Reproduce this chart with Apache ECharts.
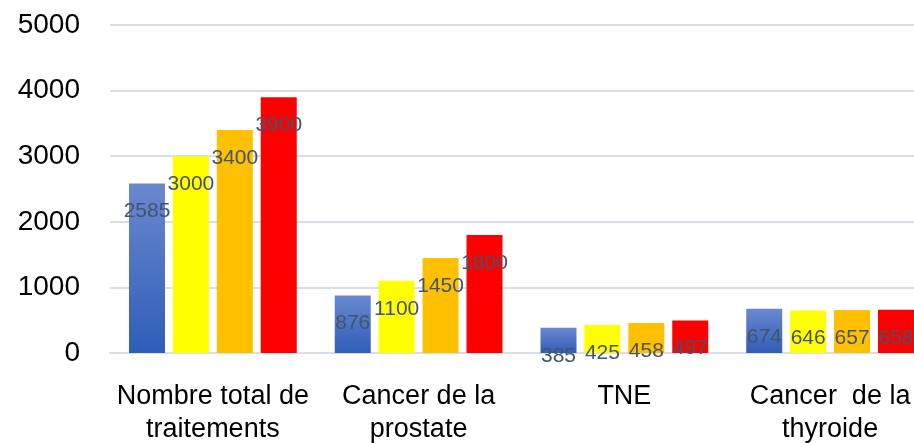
<!DOCTYPE html>
<html><head><meta charset="utf-8">
<script src="https://cdn.jsdelivr.net/npm/echarts@6/dist/echarts.min.js"></script>
<style>html,body{margin:0;padding:0;background:#fff}#c{width:914px;height:443px}</style>
</head><body><div id="c"></div>
<script>
const categories = ['Nombre total de\ntraitements', 'Cancer de la\nprostate', 'TNE', 'Cancer  de la\nthyroide'];
const seriesA = [2585, 876, 385, 674];
const seriesB = [3000, 1100, 425, 646];
const seriesC = [3400, 1450, 458, 657];
const seriesD = [3900, 1800, 497, 658];
const yTicks = [0, 1000, 2000, 3000, 4000, 5000];

const chart = echarts.init(document.getElementById('c'));
const label = {
  show: true, position: ['50%', 28], align: 'center', verticalAlign: 'middle',
  color: '#44546A', fontSize: 21, fontFamily: 'Liberation Sans'
};
function mk(data, color) {
  return { type: 'bar', data, barWidth: 36, barGap: '22%', itemStyle: { color }, label };
}
chart.setOption({
  animation: false,
  grid: { left: 110, width: 823, top: 25, bottom: 90, containLabel: false, outerBoundsMode: 'none' },
  xAxis: {
    type: 'category', data: categories,
    axisLine: { lineStyle: { color: '#D9DEE5', width: 2 } },
    axisTick: { show: false },
    axisLabel: { color: '#000', fontSize: 27, fontFamily: 'Liberation Sans', lineHeight: 33, margin: 27, interval: 0 }
  },
  yAxis: {
    type: 'value', min: yTicks[0], max: yTicks[yTicks.length - 1], interval: 1000,
    axisLine: { show: false }, axisTick: { show: false },
    splitLine: { lineStyle: { color: '#D9DEE5', width: 2 } },
    axisLabel: { color: '#000', fontSize: 28, fontFamily: 'Liberation Sans', margin: 30, formatter: v => String(v) }
  },
  series: [
    mk(seriesA, new echarts.graphic.LinearGradient(0, 0, 0, 1, [{ offset: 0, color: '#6A88CF' }, { offset: 1, color: '#2F5DB8' }])),
    mk(seriesB, '#FFFF00'),
    mk(seriesC, '#FFC000'),
    mk(seriesD, '#FF0000')
  ]
});
</script></body></html>
